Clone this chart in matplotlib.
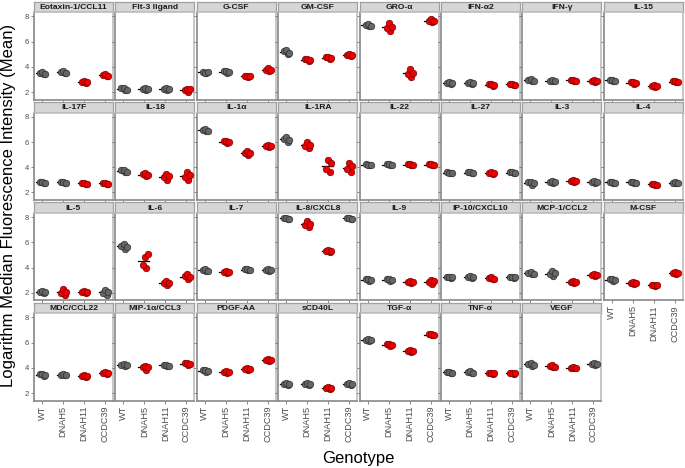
import matplotlib
matplotlib.use("Agg")
import matplotlib.pyplot as plt

plt.rcParams['font.family'] = ['Liberation Sans', 'DejaVu Sans']

genotypes = ["WT", "DNAH5", "DNAH11", "CCDC39"]

panels = ["Eotaxin-1/CCL11", "Flt-3 ligand", "G-CSF", "GM-CSF", "GRO-α", "IFN-α2", "IFN-γ", "IL-15",
          "IL-17F", "IL-18", "IL-1α", "IL-1RA", "IL-22", "IL-27", "IL-3", "IL-4",
          "IL-5", "IL-6", "IL-7", "IL-8/CXCL8", "IL-9", "IP-10/CXCL10", "MCP-1/CCL2", "M-CSF",
          "MDC/CCL22", "MIP-1α/CCL3", "PDGF-AA", "sCD40L", "TGF-α", "TNF-α", "VEGF"]

# 1 = red (differs from WT), 0 = grey; order WT, DNAH5, DNAH11, CCDC39
signif = ["0011", "0001", "0011", "0111", "0111", "0011", "0011", "0111",
          "0011", "0111", "0111", "0111", "0011", "0010", "0010", "0010",
          "0110", "0111", "0100", "0110", "0011", "0010", "0011", "0111",
          "0011", "0101", "0111", "0010", "0111", "0011", "0110"]

wt = [[3.40, 3.55, 3.62, 3.45], [2.15, 2.30, 2.35, 2.20], [3.50, 3.62, 3.55, 3.60], [5.02, 5.25, 5.35, 5.10],
      [7.22, 7.35, 7.40, 7.25], [2.65, 2.75, 2.78, 2.70], [2.85, 2.95, 3.02, 2.90], [2.88, 2.98, 2.95, 2.90],
      [2.75, 2.85, 2.82, 2.78], [3.62, 3.75, 3.80, 3.65], [6.85, 6.95, 7.00, 6.88], [6.00, 6.25, 6.40, 6.15],
      [4.15, 4.22, 4.20, 4.18], [3.52, 3.60, 3.58, 3.55], [2.62, 2.80, 2.85, 2.72], [2.75, 2.82, 2.85, 2.78],
      [1.95, 2.08, 2.15, 2.02], [5.50, 5.72, 5.90, 5.65], [3.70, 3.80, 3.85, 3.75], [7.85, 7.92, 7.95, 7.88],
      [2.95, 3.05, 3.10, 3.00], [3.18, 3.25, 3.28, 3.22], [3.45, 3.55, 3.62, 3.50], [2.95, 3.05, 3.10, 3.00],
      [3.38, 3.48, 3.52, 3.42], [4.15, 4.25, 4.28, 4.20], [3.68, 3.80, 3.85, 3.75], [2.62, 2.72, 2.78, 2.68],
      [6.12, 6.22, 6.28, 6.18], [3.60, 3.68, 3.70, 3.62], [4.15, 4.30, 4.38, 4.25]]
dnah5 = [[3.50, 3.62, 3.70, 3.55], [2.18, 2.28, 2.32, 2.22], [3.55, 3.68, 3.70, 3.60], [4.50, 4.62, 4.60, 4.55],
         [6.85, 7.10, 7.50, 7.15], [2.65, 2.75, 2.78, 2.70], [2.85, 2.92, 2.95, 2.88], [2.68, 2.78, 2.80, 2.72],
         [2.75, 2.85, 2.82, 2.78], [3.30, 3.45, 3.55, 3.35], [5.95, 6.05, 6.08, 6.00], [5.50, 5.70, 6.00, 5.80],
         [4.15, 4.22, 4.25, 4.18], [3.52, 3.60, 3.62, 3.55], [2.75, 2.85, 2.88, 2.80], [2.75, 2.82, 2.85, 2.78],
         [1.80, 2.00, 2.30, 2.05], [4.00, 4.20, 4.85, 5.10], [3.58, 3.68, 3.72, 3.62], [7.20, 7.35, 7.70, 7.45],
         [2.95, 3.05, 3.12, 3.00], [3.20, 3.25, 3.30, 3.22], [3.30, 3.50, 3.70, 3.55], [2.72, 2.80, 2.82, 2.76],
         [3.40, 3.45, 3.50, 3.42], [3.85, 4.05, 4.15, 4.08], [3.55, 3.68, 3.72, 3.65], [2.65, 2.75, 2.78, 2.70],
         [5.72, 5.85, 5.90, 5.80], [3.58, 3.65, 3.72, 3.62], [4.05, 4.12, 4.20, 4.10]]
dnah11 = [[2.72, 2.82, 2.88, 2.78], [2.20, 2.28, 2.32, 2.25], [3.22, 3.28, 3.30, 3.25], [4.65, 4.75, 4.78, 4.70],
          [3.20, 3.45, 3.80, 3.55], [2.52, 2.62, 2.65, 2.58], [2.85, 2.95, 2.98, 2.92], [2.40, 2.50, 2.60, 2.52],
          [2.65, 2.75, 2.78, 2.70], [3.00, 3.20, 3.50, 3.30], [4.95, 5.10, 5.30, 5.12], [3.60, 3.85, 4.60, 4.30],
          [4.15, 4.22, 4.25, 4.18], [3.50, 3.58, 3.60, 3.52], [2.82, 2.92, 2.95, 2.88], [2.58, 2.68, 2.70, 2.62],
          [2.00, 2.08, 2.10, 2.02], [2.60, 2.75, 2.95, 2.80], [3.78, 3.85, 3.90, 3.82], [5.20, 5.30, 5.42, 5.28],
          [2.78, 2.85, 2.92, 2.82], [3.08, 3.15, 3.22, 3.12], [2.75, 2.85, 2.95, 2.88], [2.50, 2.58, 2.65, 2.62],
          [3.30, 3.38, 3.42, 3.35], [4.15, 4.20, 4.25, 4.18], [3.85, 3.92, 3.95, 3.88], [2.30, 2.40, 2.48, 2.38],
          [5.28, 5.35, 5.38, 5.30], [3.50, 3.58, 3.62, 3.55], [3.95, 4.02, 4.08, 4.00]]
ccdc39 = [[3.25, 3.35, 3.45, 3.30], [2.00, 2.15, 2.28, 2.25], [3.65, 3.75, 3.88, 3.72], [4.88, 4.95, 5.05, 4.92],
          [7.55, 7.65, 7.78, 7.62], [2.55, 2.62, 2.68, 2.60], [2.80, 2.90, 3.00, 2.92], [2.78, 2.85, 2.88, 2.82],
          [2.65, 2.75, 2.78, 2.70], [2.95, 3.20, 3.60, 3.35], [5.62, 5.70, 5.78, 5.68], [3.60, 3.85, 4.30, 4.10],
          [4.15, 4.22, 4.25, 4.18], [3.52, 3.60, 3.62, 3.55], [2.75, 2.82, 2.88, 2.80], [2.72, 2.78, 2.80, 2.75],
          [1.85, 2.00, 2.20, 2.08], [3.10, 3.30, 3.45, 3.25], [3.75, 3.82, 3.85, 3.78], [7.85, 7.90, 7.95, 7.88],
          [2.70, 2.85, 3.00, 2.90], [3.18, 3.22, 3.28, 3.22], [3.35, 3.42, 3.50, 3.40], [3.50, 3.58, 3.62, 3.55],
          [3.48, 3.58, 3.65, 3.55], [4.25, 4.35, 4.42, 4.30], [4.58, 4.65, 4.72, 4.62], [2.60, 2.70, 2.78, 2.72],
          [6.58, 6.65, 6.72, 6.62], [3.50, 3.58, 3.62, 3.55], [4.22, 4.30, 4.35, 4.28]]

groups = [wt, dnah5, dnah11, ccdc39]
jitter = [0.08, -0.09, 0.01, 0.15]

W, H = 685, 468
fig = plt.figure(figsize=(W / 100, H / 100), dpi=100)


def px_axes(x, y, w, h):
    return fig.add_axes([x / W, 1 - (y + h) / H, w / W, h / H])


ncol = 8
for i, name in enumerate(panels):
    r, c = divmod(i, ncol)
    left = 34 + c * 81.4
    top = 1.7 + r * 100.3
    # strip
    sax = px_axes(left, top, 79, 10.5)
    sax.set_xlim(0, 1)
    sax.set_ylim(0, 1)
    sax.set_facecolor("#d6d6d6")
    sax.set_xticks([])
    sax.set_yticks([])
    for sp in sax.spines.values():
        sp.set_color("#a0a0a0")
        sp.set_linewidth(0.9)
    sax.spines["bottom"].set_color("#555555")
    sax.text(0.5, 0.45, name, ha="center", va="center", fontsize=6.1,
             fontweight="bold", color="#1a1a1a")

    ax = px_axes(left, top + 10.5, 79, 87.5)
    ax.set_xlim(0.62, 4.38)
    ax.set_ylim(1.4, 8.34)
    for sp in ax.spines.values():
        sp.set_color("#bdbdbd")
        sp.set_linewidth(1.2)
    ax.spines["bottom"].set_color("#888888")
    ax.spines["left"].set_color("#888888")

    for g in range(4):
        vals = groups[g][i]
        red = signif[i][g] == "1"
        fc = "#ee0000" if red else "#666666"
        ec = "#7a0000" if red else "#2e2e2e"
        m = sum(vals) / len(vals)
        ax.plot([g + 1 - 0.3, g + 1 + 0.22], [m, m], color="black", lw=0.9, zorder=2)
        xs = [g + 1 + j for j in jitter]
        ax.scatter(xs, vals, s=22, c=fc, edgecolors=ec, linewidths=0.5, zorder=3)

    ax.set_xticks(range(1, 5))
    ax.set_yticks([2, 4, 6, 8])
    ax.tick_params(length=2, width=0.5, color="#555555", labelcolor="#4d4d4d",
                   labelsize=5.5, pad=1.5)
    if c == 0:
        ax.set_yticklabels(["2", "4", "6", "8"])
    else:
        ax.set_yticklabels([])
    below = i + ncol
    if below >= len(panels):
        ax.set_xticklabels(genotypes, rotation=90, fontsize=6.6)
    else:
        ax.set_xticklabels([])

fig.text(9 / W, 1 - 205 / H, "Logarithm Median Fluorescence Intensity (Mean)", rotation=90,
         ha="center", va="center", fontsize=12, color="black")
fig.text(358 / W, 1 - 458 / H, "Genotype", ha="center", va="center", fontsize=12, color="black")

fig.savefig("out.png", dpi=100)
